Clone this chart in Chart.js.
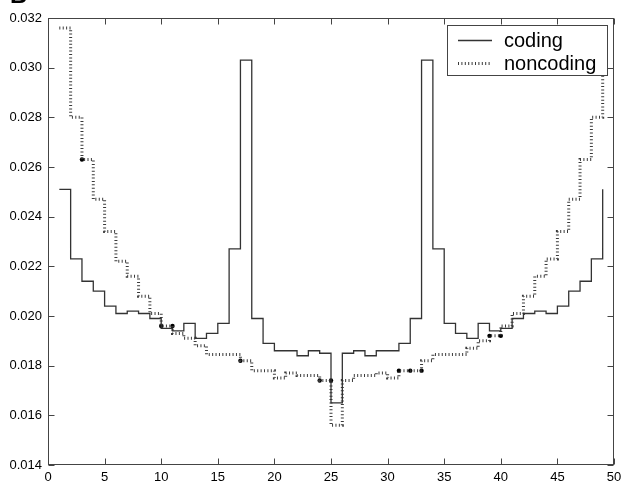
<!DOCTYPE html>
<html>
<head>
<meta charset="utf-8">
<script src="https://cdn.jsdelivr.net/npm/chart.js@4/dist/chart.umd.min.js"></script>
<style>
  html, body { margin: 0; padding: 0; background: #fff; }
  canvas { display: block; }
</style>
</head>
<body>
<canvas id="steps" width="631" height="483"></canvas>
<script>
// position along the sequence (one value per bin, drawn as stairs)
const bins = [1, 2, 3, 4, 5, 6, 7, 8, 9, 10, 11, 12, 13, 14, 15, 16, 17, 18, 19, 20, 21, 22, 23, 24, 25,
              26, 27, 28, 29, 30, 31, 32, 33, 34, 35, 36, 37, 38, 39, 40, 41, 42, 43, 44, 45, 46, 47, 48, 49];

const coding = [0.0251, 0.0223, 0.0214, 0.0210, 0.0204, 0.0201, 0.0202, 0.0201, 0.0199, 0.0195,
                0.0194, 0.0197, 0.0191, 0.0193, 0.0197, 0.0227, 0.0303, 0.0199, 0.0189, 0.0186,
                0.0186, 0.0184, 0.0186, 0.0185, 0.0165, 0.0185, 0.0186, 0.0184, 0.0186, 0.0186,
                0.0189, 0.0199, 0.0303, 0.0227, 0.0197, 0.0193, 0.0191, 0.0197, 0.0194, 0.0195,
                0.0199, 0.0201, 0.0202, 0.0201, 0.0204, 0.0210, 0.0214, 0.0223, 0.0251];

const noncoding = [0.0316, 0.0280, 0.0263, 0.0247, 0.0234, 0.0222, 0.0216, 0.0208, 0.0201, 0.0196,
                   0.0193, 0.0191, 0.0188, 0.01845, 0.01845, 0.01845, 0.0182, 0.0178, 0.0178, 0.0175,
                   0.0177, 0.0176, 0.0176, 0.0174, 0.0156, 0.0174, 0.0176, 0.0176, 0.0177, 0.0175,
                   0.0178, 0.0178, 0.0182, 0.01845, 0.01845, 0.01845, 0.0187, 0.0190, 0.0192, 0.0196,
                   0.0201, 0.0208, 0.0216, 0.0223, 0.0234, 0.0247, 0.0263, 0.0280, 0.0316];

// solid dots left on the dotted curve
const dotX = [3, 10, 11, 17, 24, 25, 31, 32, 33, 39, 40];
const dotY = [0.0263, 0.0196, 0.0196, 0.0182, 0.0174, 0.0174, 0.0178, 0.0178, 0.0178, 0.0192, 0.0192];

const xTicks = [0, 5, 10, 15, 20, 25, 30, 35, 40, 45, 50];
const yTicks = [0.014, 0.016, 0.018, 0.020, 0.022, 0.024, 0.026, 0.028, 0.030, 0.032];

const pairs = (xs, ys) => xs.map((x, i) => ({ x: x, y: ys[i] }));

Chart.defaults.font.family = '"Liberation Sans", Arial, Helvetica, sans-serif';
Chart.defaults.color = '#000';

const TICK = 6;

// box round the plot with inward ticks on all four sides, the legend and the panel letter
const frame = {
  id: 'frame',
  afterDraw(chart) {
    const { ctx, chartArea: a, scales: { x, y } } = chart;
    const l = Math.round(a.left) + 0.5, r = Math.round(a.right) - 0.5;
    const t = Math.round(a.top) + 0.5, b = Math.round(a.bottom) - 0.5;
    ctx.save();
    ctx.strokeStyle = '#444';
    ctx.lineWidth = 1;
    ctx.beginPath();
    xTicks.forEach(v => {
      const px = Math.round(x.getPixelForValue(v)) + 0.5;
      ctx.moveTo(px, b); ctx.lineTo(px, b - TICK);
      ctx.moveTo(px, t); ctx.lineTo(px, t + TICK);
    });
    yTicks.forEach(v => {
      const py = Math.round(y.getPixelForValue(v)) + 0.5;
      ctx.moveTo(l, py); ctx.lineTo(l + TICK, py);
      ctx.moveTo(r, py); ctx.lineTo(r - TICK, py);
    });
    ctx.stroke();
    ctx.strokeRect(l, t, r - l, b - t);

    // legend
    const lx = 447.5, ly = 25.5, lw = 160, lh = 50;
    ctx.fillStyle = '#fff';
    ctx.fillRect(lx, ly, lw, lh);
    ctx.strokeStyle = '#444';
    ctx.strokeRect(lx, ly, lw, lh);
    const entries = chart.data.datasets.filter(d => d.label);
    ctx.font = '20px "Liberation Sans", Arial, sans-serif';
    ctx.textBaseline = 'middle';
    entries.forEach((d, i) => {
      const cy = Math.round(ly + 14 + i * 23) + 0.5;
      ctx.save();
      ctx.strokeStyle = d.borderColor;
      ctx.lineWidth = d.borderWidth;
      ctx.setLineDash(d.borderDash || []);
      ctx.beginPath();
      ctx.moveTo(458, cy);
      ctx.lineTo(492, cy);
      ctx.stroke();
      ctx.restore();
      ctx.fillStyle = '#000';
      ctx.fillText(d.label, 504, cy + 1);
    });

    ctx.font = 'bold 24px "Liberation Sans", Arial, sans-serif';
    ctx.textBaseline = 'alphabetic';
    ctx.fillText('B', 10, 3);
    ctx.restore();
  }
};

new Chart(document.getElementById('steps'), {
  type: 'line',
  data: {
    datasets: [
      {
        label: 'coding',
        data: pairs(bins, coding),
        stepped: true,
        borderColor: '#333',
        borderWidth: 1.3,
        pointRadius: 0,
        fill: false
      },
      {
        label: 'noncoding',
        data: pairs(bins, noncoding),
        stepped: true,
        borderColor: '#3a3a3a',
        borderWidth: 3,
        borderDash: [1, 2.4],
        borderCapStyle: 'butt',
        pointRadius: 0,
        fill: false
      },
      {
        type: 'scatter',
        data: pairs(dotX, dotY),
        showLine: false,
        pointRadius: 2.2,
        pointBackgroundColor: '#000',
        pointBorderWidth: 0
      }
    ]
  },
  options: {
    responsive: false,
    animation: false,
    devicePixelRatio: 1,
    layout: { padding: { top: 18, right: 17, left: 0, bottom: 0 } },
    plugins: {
      legend: { display: false },
      tooltip: { enabled: false }
    },
    scales: {
      x: {
        type: 'linear',
        min: 0,
        max: 50,
        afterBuildTicks: s => { s.ticks = xTicks.map(v => ({ value: v })); },
        afterFit: s => { s.height = 18; },
        grid: { display: false, drawTicks: false },
        border: { display: false },
        ticks: { padding: 5, maxRotation: 0, font: { size: 13 }, callback: v => String(v) }
      },
      y: {
        type: 'linear',
        min: 0.014,
        max: 0.032,
        afterBuildTicks: s => { s.ticks = yTicks.map(v => ({ value: v })); },
        afterFit: s => { s.width = 48; },
        grid: { display: false, drawTicks: false },
        border: { display: false },
        ticks: { padding: 6, font: { size: 13 }, callback: v => v.toFixed(3) }
      }
    }
  },
  plugins: [frame]
});
</script>
</body>
</html>
